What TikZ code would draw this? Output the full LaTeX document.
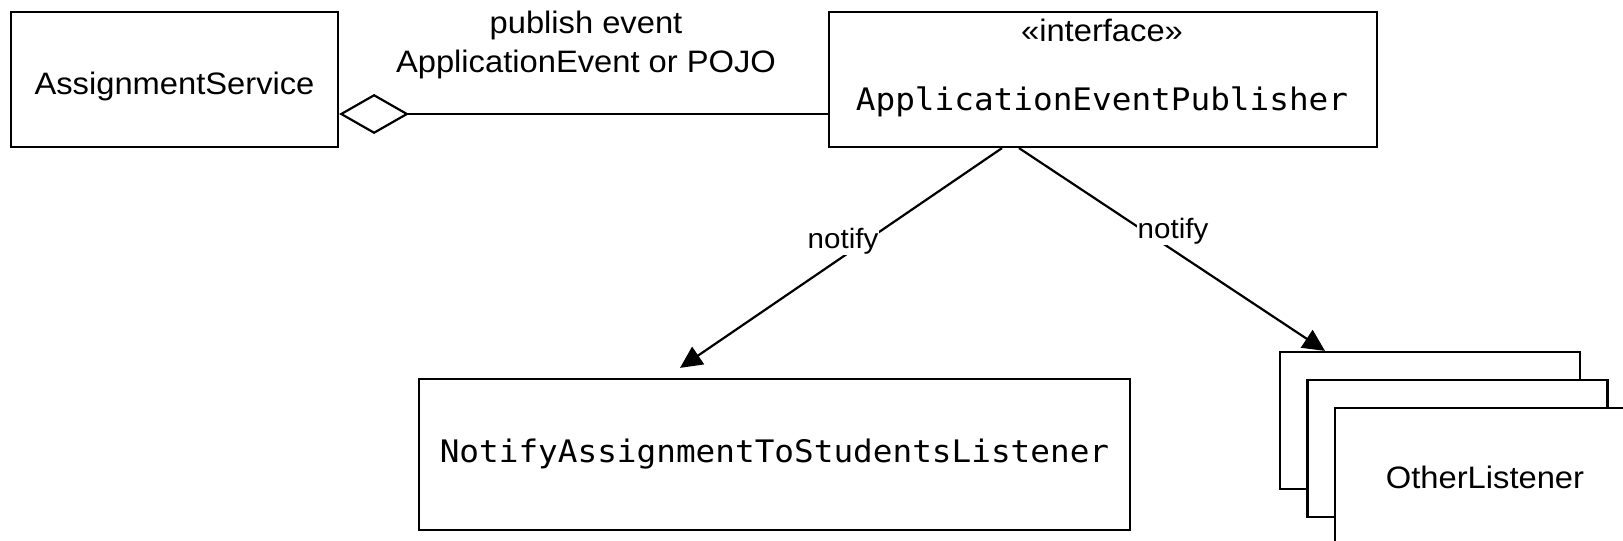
\documentclass[tikz,border=0pt]{standalone}
\usepackage{fontspec}
\setmainfont{Liberation Sans}[FakeStretch=1.055]
\setmonofont{DejaVu Sans Mono}[FakeStretch=1.055]
\usetikzlibrary{arrows.meta,calc}
\begin{document}
\begin{tikzpicture}[x=1pt,y=-1pt,
  box/.style={draw, line width=2.2pt, fill=white, rectangle, inner sep=0pt, text depth=0pt},
  sans/.style={font=\fontsize{31}{37}\selectfont},
  mono/.style={font=\ttfamily\fontsize{31}{37}\selectfont},
  lbl/.style={font=\fontsize{28}{32}\selectfont, fill=white, inner sep=1pt, anchor=base},
  conn/.style={line width=2.2pt},
  notifyarrow/.style={conn, -{Triangle[length=22pt,width=21pt]}},
]
\useasboundingbox (0,0) rectangle (1623,541);
\clip (0,0) rectangle (1623,541);

\node[box, sans, minimum width=327pt, minimum height=135pt, text height=29pt] (as) at (174.5,79.5) {AssignmentService};
\node[box, minimum width=548pt, minimum height=135pt] (ape) at (1103,79.5) {};
\node[sans, anchor=base] (apest) at (1102,41) {«interface»};
\node[mono, anchor=base] (apename) at (1102,110) {ApplicationEventPublisher};

\node[box, mono, minimum width=711pt, minimum height=151pt, text height=15pt] (nl) at (774.5,454.5) {NotifyAssignmentToStudentsListener};

\node[box, minimum width=300pt, minimum height=137pt] (ol1) at (1430,420.5) {};
\node[box, minimum width=300pt, minimum height=137pt] (ol2) at (1457.5,448.5) {};
\node[box, sans, minimum width=300pt, minimum height=137pt, text height=23pt] (ol3) at (1485,476.5) {OtherListener};

\node[sans, anchor=base] (pub1) at (586,33) {publish event};
\node[sans, anchor=base] (pub2) at (586,72) {ApplicationEvent or POJO};

\coordinate (j) at (0,114);
\draw[conn, -{Diamond[open,length=70pt,width=40pt]}] (ape.west |- j) -- (as.east |- j);

\draw[notifyarrow] ($(ape.south)+(-101,0)$) -- ($(nl.north)+(-94.5,-10)$);
\draw[notifyarrow] ($(ape.south)+(-84,0)$) -- ($(ol1.north)+(-105,0)$);

\node[lbl] (n1) at (843,248) {notify};
\node[lbl] (n2) at (1173,238) {notify};
\end{tikzpicture}
\end{document}
